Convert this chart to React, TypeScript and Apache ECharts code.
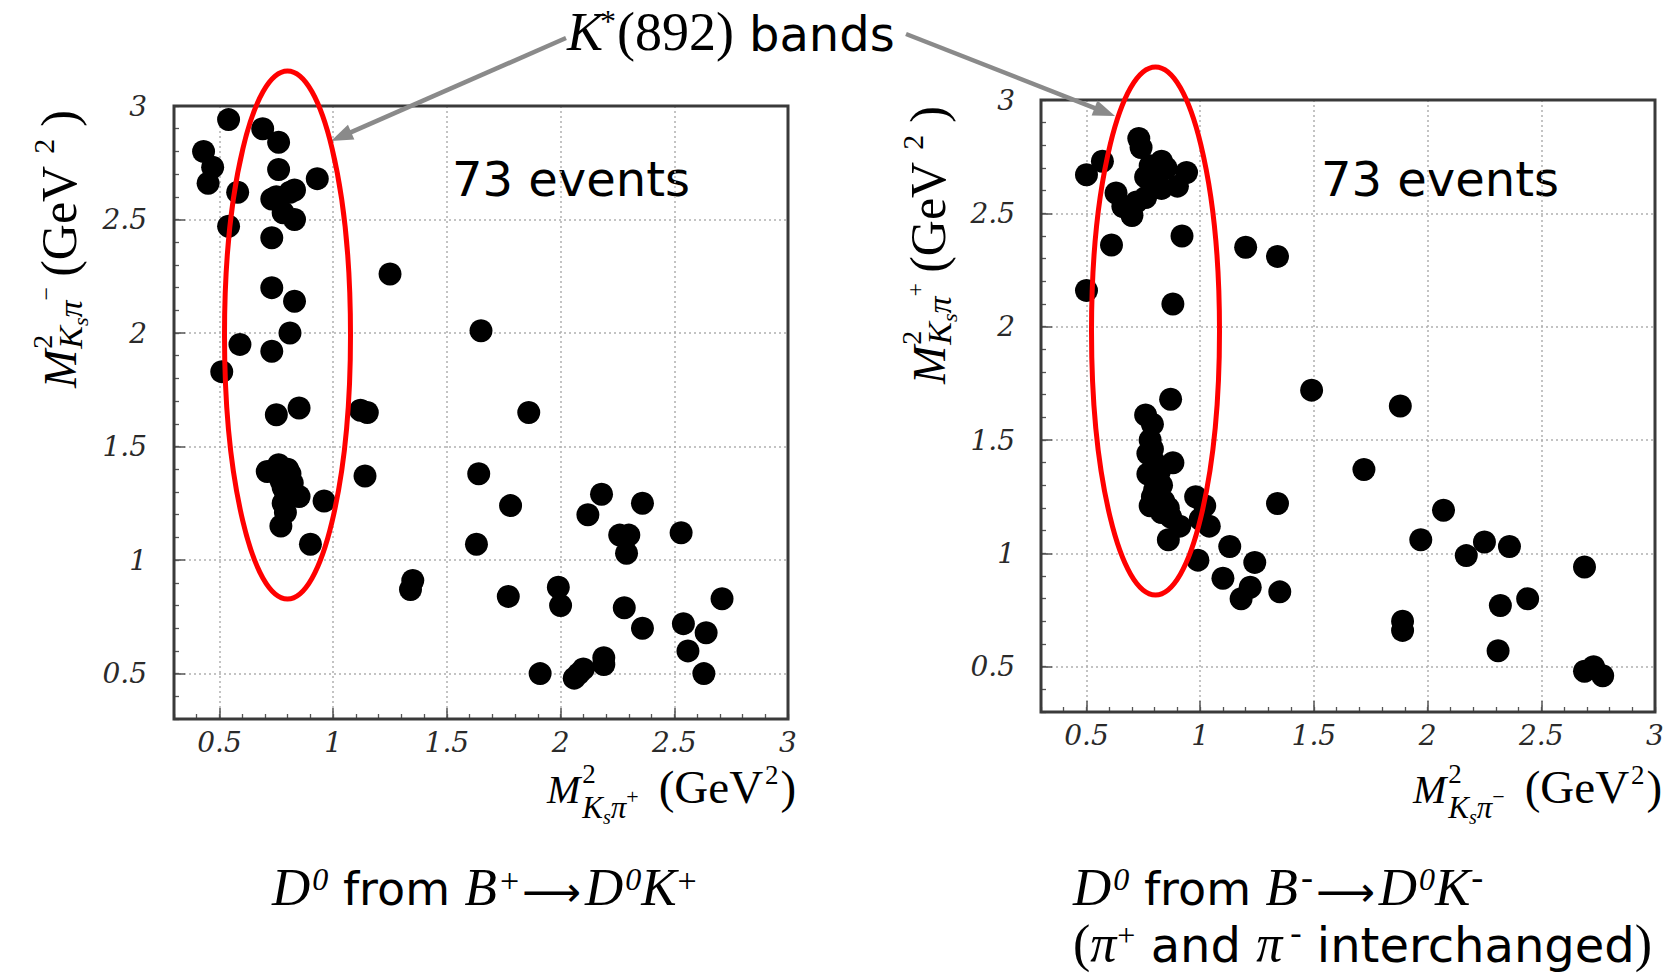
import React, { useEffect, useRef } from 'react';
import * as echarts from 'echarts';

// ---------- data ----------
// D0 from B+ -> D0 K+ : x = M^2(Ks pi+), y = M^2(Ks pi-)
const plusX = [0.54, 0.69, 0.76, 0.43, 0.47, 0.45, 0.76, 0.93, 0.58, 0.83, 0.73, 0.78, 0.83, 0.54, 0.73, 1.25, 0.73, 0.83, 1.65, 0.81,
  0.59, 0.73, 0.51, 0.85, 0.75, 1.12, 1.15, 1.86, 0.76, 0.71, 0.81, 0.77, 0.78, 0.85, 0.79, 0.96, 1.14, 1.64, 0.79, 0.77,
  0.90, 1.78, 2.18, 2.12, 2.36, 2.26, 2.30, 2.29, 2.53, 1.63, 1.35, 1.34, 1.77, 1.99, 2.00, 2.28, 2.36, 2.54, 2.64, 2.56,
  2.71, 2.63, 1.91, 2.06, 2.10, 2.19, 2.19, 0.80, 0.82, 0.78, 0.75, 0.81, 2.08];
const plusY = [2.94, 2.90, 2.84, 2.80, 2.73, 2.66, 2.72, 2.68, 2.62, 2.63, 2.59, 2.53, 2.50, 2.47, 2.42, 2.26, 2.20, 2.14, 2.01, 2.00,
  1.95, 1.92, 1.83, 1.67, 1.64, 1.66, 1.65, 1.65, 1.42, 1.39, 1.38, 1.35, 1.32, 1.28, 1.30, 1.26, 1.37, 1.38, 1.21, 1.15,
  1.07, 1.24, 1.29, 1.20, 1.25, 1.11, 1.11, 1.03, 1.12, 1.07, 0.91, 0.87, 0.84, 0.88, 0.80, 0.79, 0.70, 0.72, 0.68, 0.60,
  0.83, 0.50, 0.50, 0.48, 0.52, 0.57, 0.54, 1.40, 1.34, 1.25, 2.60, 2.62, 0.50];

// D0 from B- -> D0 K- (pi+ and pi- interchanged): x = M^2(Ks pi-), y = M^2(Ks pi+)
const minusX = [0.73, 0.74, 0.57, 0.83, 0.50, 0.94, 0.76, 0.83, 0.90, 0.78, 0.63, 0.66, 0.70, 0.76, 0.61, 0.92, 1.20, 1.34, 0.50, 0.88,
  1.49, 0.87, 1.88, 0.76, 0.79, 0.78, 0.79, 0.88, 0.82, 0.83, 0.79, 0.84, 0.87, 0.91, 0.86, 0.98, 1.02, 1.04, 1.72, 1.34,
  1.13, 0.99, 1.24, 1.10, 1.22, 1.18, 1.35, 2.07, 1.97, 2.17, 2.25, 2.36, 2.69, 2.44, 2.32, 1.89, 1.89, 2.31, 2.69, 2.73,
  2.77, 0.78, 0.81, 0.80, 0.85, 0.72, 0.80, 0.83, 0.86, 0.80, 0.77, 1.00, 0.77];
const minusY = [2.83, 2.79, 2.73, 2.73, 2.67, 2.68, 2.66, 2.61, 2.62, 2.71, 2.59, 2.53, 2.49, 2.57, 2.36, 2.40, 2.35, 2.31, 2.16, 2.10,
  1.72, 1.68, 1.65, 1.61, 1.57, 1.50, 1.46, 1.40, 1.36, 1.30, 1.25, 1.23, 1.16, 1.12, 1.06, 1.25, 1.21, 1.12, 1.37, 1.22,
  1.03, 0.97, 0.96, 0.89, 0.85, 0.80, 0.83, 1.19, 1.06, 0.99, 1.05, 1.03, 0.94, 0.80, 0.77, 0.70, 0.66, 0.57, 0.48, 0.50,
  0.46, 1.21, 1.33, 2.65, 2.70, 2.55, 1.40, 1.18, 1.20, 1.28, 1.35, 1.15, 1.44];

// axis scale
const AXIS_MIN = 0.3;
const AXIS_MAX = 3;
const MAJOR_FIRST = 0.5;
const MAJOR_STEP = 0.5;
const MINOR_STEP = 0.1;

const eventsText = '73 events';

// ---------- layout ----------
const SERIF = 'Liberation Serif';
const SANS = 'DejaVu Sans';
const TICK_FONT = 'DejaVu Serif';

const PLOTS = [
  { left: 174, top: 106, width: 614, height: 613 },
  { left: 1041, top: 100, width: 614, height: 612 },
];

let measureCtx: CanvasRenderingContext2D | null = null;
function measure(t: string, font: string): number {
  if (!measureCtx) measureCtx = document.createElement('canvas').getContext('2d');
  measureCtx!.font = font;
  return measureCtx!.measureText(t).width;
}

type Piece = { t: string; size: number; fam?: string; it?: boolean; dy?: number; gap?: number; hold?: boolean; color?: string };

function txt(t: string, x: number, base: number, size: number, fam: string, italic: boolean, color = '#000') {
  return {
    type: 'text', x, y: base - 0.34 * size, silent: true,
    style: { text: t, fontSize: size, fontFamily: fam, fontStyle: italic ? 'italic' : 'normal', fill: color, align: 'left', verticalAlign: 'middle' },
  };
}

function seq(pieces: Piece[], x0: number, base: number) {
  let x = x0;
  const out: any[] = [];
  for (const p of pieces) {
    x += p.gap || 0;
    const fam = p.fam || SERIF;
    out.push(txt(p.t, x, base + (p.dy || 0), p.size, fam, !!p.it, p.color || '#000'));
    if (!p.hold) x += measure(p.t, `${p.it ? 'italic ' : ''}${p.size}px "${fam}"`);
  }
  return out;
}

function arrow(x1: number, y1: number, x2: number, y2: number, color: string) {
  const dx = x2 - x1, dy = y2 - y1, len = Math.hypot(dx, dy);
  const ux = dx / len, uy = dy / len, nx = -uy, ny = ux;
  const L = 22, W = 8;
  const bx = x2 - ux * L, by = y2 - uy * L;
  return [
    { type: 'line', z: 100, silent: true, shape: { x1, y1, x2: bx + ux * 3, y2: by + uy * 3 }, style: { stroke: color, lineWidth: 4.5 } },
    { type: 'polygon', z: 100, silent: true, shape: { points: [[x2, y2], [bx + nx * W, by + ny * W], [bx - nx * W, by - ny * W]] }, style: { fill: color } },
  ];
}

function yTitle(sign: string): Piece[] {
  return [
    { t: 'M', size: 46, it: true },
    { t: '2', size: 28, dy: -24, hold: true, gap: 1 },
    { t: 'K', size: 34, it: true, dy: 6 },
    { t: 's', size: 22, it: true, dy: 12 },
    { t: 'π', size: 34, it: true, dy: 6 },
    { t: sign, size: 24, dy: -22 },
    { t: '(GeV', size: 50, gap: 10 },
    { t: '2', size: 30, dy: -22, gap: 12 },
    { t: ')', size: 50, gap: 12 },
  ];
}

function xTitle(sign: string): Piece[] {
  return [
    { t: 'M', size: 40, it: true },
    { t: '2', size: 27, dy: -20, hold: true, gap: 2 },
    { t: 'K', size: 31, it: true, dy: 15 },
    { t: 's', size: 20, it: true, dy: 21 },
    { t: 'π', size: 31, it: true, dy: 15 },
    { t: sign, size: 22, dy: 1 },
    { t: '(GeV', size: 47, gap: 20 },
    { t: '2', size: 27, dy: -19, gap: 2 },
    { t: ')', size: 47, gap: 2 },
  ];
}

function caption(sign: string): Piece[] {
  const sup = sign === '+' ? { size: 34, dy: -13 } : { size: 36, dy: -16 };
  return [
    { t: 'D', size: 53, it: true },
    { t: '0', size: 32, it: true, dy: -15, gap: 2 },
    { t: ' from ', size: 46, fam: SANS },
    { t: 'B', size: 53, it: true },
    { t: sign, ...sup, gap: 3 },
    { t: '⟶', size: 41, fam: SANS, dy: 1, gap: 3 },
    { t: 'D', size: 53, it: true, gap: 4 },
    { t: '0', size: 32, it: true, dy: -15, gap: 2 },
    { t: 'K', size: 53, it: true, gap: 0 },
    { t: sign, ...sup, gap: 1 },
  ];
}

function buildOption() {
  const grids: any[] = [];
  const xAxes: any[] = [];
  const yAxes: any[] = [];
  const series: any[] = [];
  const tickColor = '#555';
  const labelStyle = { fontFamily: TICK_FONT, fontStyle: 'italic', fontSize: 28, color: '#2a2a2a' };
  const splitStyle = { show: true, lineStyle: { color: '#b0b0b0', type: [2, 3], width: 1.5 } };

  const datasets = [
    { xs: plusX, ys: plusY },
    { xs: minusX, ys: minusY },
  ];

  PLOTS.forEach((p, k) => {
    const span = AXIS_MAX - AXIS_MIN;
    const offX = ((MAJOR_FIRST - AXIS_MIN) / span) * p.width;
    const offY = ((MAJOR_FIRST - AXIS_MIN) / span) * p.height;
    const base = k * 3;
    // main grid (data + minor ticks + frame)
    grids.push({ left: p.left, top: p.top, width: p.width, height: p.height, show: true, borderColor: '#3a3a3a', borderWidth: 3, backgroundColor: 'transparent', z: 1 });
    // helper grid for the major x ticks / vertical grid lines / x labels
    grids.push({ left: p.left + offX, top: p.top, width: p.width - offX, height: p.height, show: false });
    // helper grid for the major y ticks / horizontal grid lines / y labels
    grids.push({ left: p.left, top: p.top, width: p.width, height: p.height - offY, show: false });

    const minorAxis = {
      type: 'value', min: AXIS_MIN, max: AXIS_MAX, interval: MINOR_STEP,
      axisLine: { show: false }, axisLabel: { show: false }, splitLine: { show: false },
      axisTick: { show: true, inside: true, length: 5, lineStyle: { color: tickColor, width: 1.3 } },
    };
    const majorAxisBase = {
      type: 'value', min: MAJOR_FIRST, max: AXIS_MAX, interval: MAJOR_STEP,
      axisLine: { show: false },
      axisTick: { show: true, inside: true, length: 11, lineStyle: { color: tickColor, width: 1.5 } },
      splitLine: splitStyle,
      z: 0,
    };
    const hiddenAxis = { type: 'value', min: AXIS_MIN, max: AXIS_MAX, show: false };

    xAxes.push({ ...minorAxis, gridIndex: base, position: 'bottom' });
    xAxes.push({ ...majorAxisBase, gridIndex: base + 1, position: 'bottom', axisLabel: { ...labelStyle, margin: 9, showMinLabel: true, showMaxLabel: true, formatter: (v: number) => String(v) } });
    xAxes.push({ ...hiddenAxis, gridIndex: base + 2 });

    yAxes.push({ ...minorAxis, gridIndex: base, position: 'left' });
    yAxes.push({ ...hiddenAxis, gridIndex: base + 1 });
    yAxes.push({ ...majorAxisBase, gridIndex: base + 2, position: 'left', axisLabel: { ...labelStyle, margin: k === 0 ? 27 : 26, showMinLabel: true, showMaxLabel: true, formatter: (v: number) => String(v) } });

    const d = datasets[k];
    series.push({
      type: 'scatter', xAxisIndex: base, yAxisIndex: base, symbol: 'circle', symbolSize: 23, z: 5,
      itemStyle: { color: '#000', opacity: 1 }, silent: true,
      data: d.xs.map((x, i) => [x, d.ys[i]]),
    });
  });

  const red = '#ff0000';
  const grey = '#8a8a8a';
  const graphic: any[] = [
    // title
    ...seq([
      { t: 'K', size: 54, it: true },
      { t: '*', size: 32, dy: -18, gap: -3 },
      { t: '(892)', size: 54, gap: 1 },
      { t: 'bands', size: 48, fam: SANS, gap: 15 },
    ], 567, 50),
    ...arrow(566, 38, 331, 141, grey),
    ...arrow(906, 34, 1115, 116, grey),
    // K* band ellipses
    { type: 'ellipse', z: 100, silent: true, shape: { cx: 287.5, cy: 335, rx: 63, ry: 264 }, style: { fill: 'none', stroke: red, lineWidth: 5 } },
    { type: 'ellipse', z: 100, silent: true, shape: { cx: 1155.5, cy: 331, rx: 64, ry: 264 }, style: { fill: 'none', stroke: red, lineWidth: 5 } },
    // event counts
    txt(eventsText, 452, 195, 48, SANS, false),
    txt(eventsText, 1321, 195, 48, SANS, false),
    // y titles
    { type: 'group', x: 76, y: 388, rotation: Math.PI / 2, children: seq(yTitle('−'), 0, 0) },
    { type: 'group', x: 945, y: 384, rotation: Math.PI / 2, children: seq(yTitle('+'), 0, 0) },
    // x titles
    ...seq(xTitle('+'), 547, 803),
    ...seq(xTitle('−'), 1413, 803),
    // captions
    ...seq(caption('+'), 272, 905),
    ...seq(caption('-'), 1073, 905),
    ...seq([
      { t: '(', size: 52 },
      { t: 'π', size: 52, it: true },
      { t: '+', size: 32, dy: -15, gap: 1 },
      { t: ' and ', size: 48, fam: SANS },
      { t: 'π', size: 52, it: true },
      { t: '-', size: 34, dy: -17, gap: 8 },
      { t: ' interchanged', size: 48, fam: SANS },
      { t: ')', size: 52 },
    ], 1073, 961),
  ];

  return {
    animation: false,
    backgroundColor: '#ffffff',
    grid: grids,
    xAxis: xAxes,
    yAxis: yAxes,
    series,
    graphic: { elements: graphic },
  };
}

export default function App() {
  const ref = useRef<HTMLDivElement>(null);
  useEffect(() => {
    const chart = echarts.init(ref.current!, null, { renderer: 'svg' });
    chart.setOption(buildOption() as any);
    return () => chart.dispose();
  }, []);
  return <div ref={ref} style={{ position: 'fixed', left: 0, top: 0, width: 1677, height: 976, background: '#fff' }} />;
}
